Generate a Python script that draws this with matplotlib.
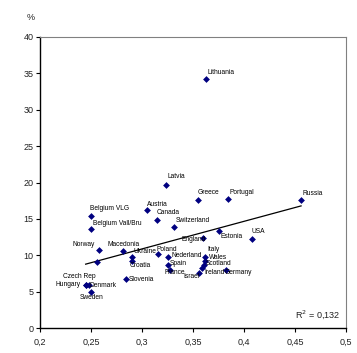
import numpy as np
import matplotlib
matplotlib.use("Agg")
import matplotlib.pyplot as plt

plt.rcParams['font.family'] = ['Liberation Sans', 'DejaVu Sans']

countries = ["Lithuania", "Latvia", "Greece", "Portugal", "Russia", "Austria", "Canada",
             "Switzerland", "Belgium VLG", "Belgium Vall/Bru", "Norway", "Macedonia",
             "Ukraine", "Croatia", "Poland", "Nederland", "Spain", "France", "England",
             "Estonia", "USA", "Italy", "Wales", "Scotland", "Ireland", "Israel", "Germany",
             "Slovenia", "Czech Rep", "Hungary", "Denmark", "Sweden", ""]
x_vals = [0.3625, 0.3235, 0.3549, 0.3843, 0.4559, 0.3046, 0.3144,
          0.3308, 0.2500, 0.2500, 0.2580, 0.2814,
          0.2896, 0.2896, 0.3154, 0.3255, 0.3249, 0.3270, 0.3598,
          0.3755, 0.4075, 0.3620, 0.3620, 0.3610, 0.3590, 0.3560, 0.3820,
          0.2837, 0.2445, 0.2445, 0.2475, 0.2500, 0.2556]
y_vals = [34.25, 19.67, 17.6, 17.7, 17.6, 16.2, 14.9,
          13.85, 15.45, 13.57, 10.77, 10.63,
          9.77, 9.2, 10.13, 9.72, 8.7, 7.98, 12.42,
          13.3, 12.2, 9.7, 9.2, 8.6, 8.2, 7.6, 7.98,
          6.79, 5.87, 5.87, 5.87, 4.9, 9.03]
r2_text = "R$^2$ = 0,132"

# label placement (offset in pixels, horizontal alignment)
label_pos = {
    "Lithuania": (2, 6, 'left'), "Latvia": (1, 8, 'left'), "Greece": (-1, 7, 'left'),
    "Portugal": (1, 7, 'left'), "Russia": (1, 6, 'left'), "Austria": (0, 6, 'left'),
    "Canada": (0, 7, 'left'), "Switzerland": (2, 7, 'left'), "Belgium VLG": (-1, 7, 'left'),
    "Belgium Vall/Bru": (2, 6, 'left'), "Norway": (-5, 5, 'right'), "Macedonia": (0, 6, 'center'),
    "Ukraine": (2, 5, 'left'), "Croatia": (-2, -4, 'left'), "Poland": (-1, 5, 'left'),
    "Nederland": (3, 2, 'left'), "Spain": (2, 1, 'left'), "France": (-5, -3, 'left'),
    "England": (3, -2, 'right'), "Estonia": (1, -5, 'left'), "USA": (0, 8, 'left'),
    "Italy": (1.5, 8, 'left'), "Wales": (4, 3.5, 'left'), "Scotland": (1, 1.5, 'left'),
    "Ireland": (2, -4, 'left'), "Israel": (0, -3.5, 'right'), "Germany": (-1, -3, 'left'),
    "Slovenia": (3, -1, 'left'), "Czech Rep": (-23, 9, 'left'), "Hungary": (-5, 1, 'right'),
    "Denmark": (1, 0, 'left'), "Sweden": (0, -5, 'center'),
}

fig = plt.figure(figsize=(3.57, 3.53), dpi=100)
ax = fig.add_axes([0.1129, 0.0708, 0.8563, 0.8244])

x = np.array(x_vals)
y = np.array(y_vals)
ax.scatter(x, y, marker='D', s=12, color='#000080', zorder=3, linewidths=0)

slope, intercept = np.polyfit(x, y, 1)
xs = np.array([x.min(), x.max()])
ax.plot(xs, slope * xs + intercept, color='black', lw=0.9, zorder=2)

for name, xv, yv in zip(countries, x_vals, y_vals):
    if not name:
        continue
    dx, dy, ha = label_pos[name]
    ax.annotate(name, (xv, yv), xytext=(dx, dy), textcoords='offset pixels',
                ha=ha, va='center', fontsize=4.8, color='black', zorder=4)

ax.set_xlim(0.2, 0.5)
ax.set_ylim(0, 40)
ax.set_xticks(np.arange(0.2, 0.501, 0.05))
ax.set_xticklabels(["0,2", "0,25", "0,3", "0,35", "0,4", "0,45", "0,5"])
ax.set_yticks(np.arange(0, 41, 5))
ax.tick_params(axis='both', labelsize=6.5, direction='out', length=3, width=0.8,
               colors='black', labelcolor='#222222', pad=2)
ax.tick_params(axis='x', pad=4)
for s in ['top', 'right']:
    ax.spines[s].set_color('#808080')
    ax.spines[s].set_linewidth(0.8)
for s in ['left', 'bottom']:
    ax.spines[s].set_color('black')
    ax.spines[s].set_linewidth(1.0)

ax.text(0.98, 0.045, r2_text, transform=ax.transAxes, ha='right', va='center',
        fontsize=6.5, color='#222222')
fig.text(31 / 357, 1 - 18 / 353, "%", ha='center', va='center', fontsize=6.5, color='#222222')

fig.savefig("out.png", dpi=100)
